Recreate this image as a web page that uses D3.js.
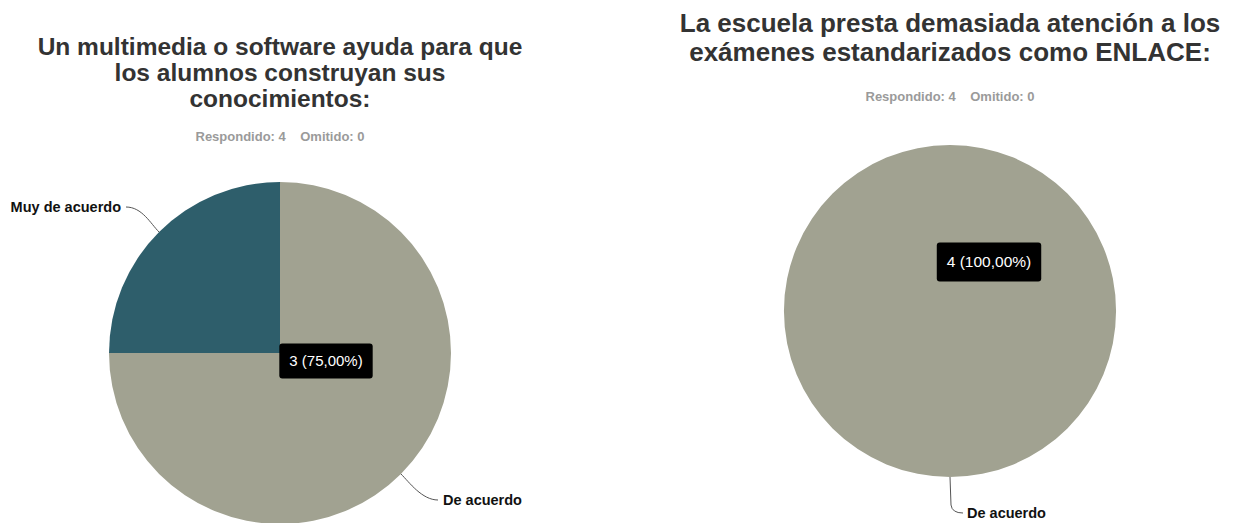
<!DOCTYPE html>
<html>
<head>
<meta charset="utf-8">
<script src="https://cdn.jsdelivr.net/npm/d3@7.9.0/dist/d3.min.js"></script>
<style>
  body { margin: 0; background: #fff; }
  svg { display: block; font-family: "Liberation Sans", Arial, sans-serif; }
</style>
</head>
<body>
<svg width="1236" height="523"></svg>
<script>
// Data
const leftTitle = ['Un multimedia o software ayuda para que', 'los alumnos construyan sus', 'conocimientos:'];
const leftCategories = ['De acuerdo', 'Muy de acuerdo'];
const leftValues = [3, 1];

const rightTitle = ['La escuela presta demasiada atención a los', 'exámenes estandarizados como ENLACE:'];
const rightCategories = ['De acuerdo'];
const rightValues = [4];

const answered = 4;
const skipped = 0;

const colors = { 'De acuerdo': '#a1a291', 'Muy de acuerdo': '#2e5e6b' };

const svg = d3.select('svg');

function drawPie(opts) {
  const g = svg.append('g');

  // title
  opts.title.forEach((line, i) => {
    g.append('text')
      .attr('x', opts.cx)
      .attr('y', opts.titleY + i * opts.titleLead)
      .attr('text-anchor', 'middle')
      .attr('font-size', opts.titleSize)
      .attr('font-weight', 'bold')
      .attr('fill', '#333')
      .text(line);
  });

  g.append('text')
    .attr('x', opts.cx)
    .attr('y', opts.subY)
    .attr('text-anchor', 'middle')
    .attr('font-size', 13)
    .attr('font-weight', 'bold')
    .attr('fill', '#9a9a9a')
    .attr('xml:space', 'preserve')
    .text(`Respondido: ${answered}    Omitido: ${skipped}`);

  const data = opts.categories.map((c, i) => ({ label: c, value: opts.values[i] }));
  const pie = d3.pie().sort(null).value(d => d.value);
  const arcs = pie(data);
  const arc = d3.arc().innerRadius(0).outerRadius(opts.r);

  const pg = g.append('g').attr('transform', `translate(${opts.cx},${opts.cy})`);
  pg.selectAll('path')
    .data(arcs)
    .join('path')
    .attr('d', arc)
    .attr('fill', d => colors[d.data.label])
    .attr('stroke', 'none');

  // leader lines + labels
  arcs.forEach(d => {
    const a = (d.startAngle + d.endAngle) / 2;
    const x0 = opts.cx + Math.sin(a) * opts.r;
    const y0 = opts.cy - Math.cos(a) * opts.r;
    const lab = opts.labels[d.data.label];
    const path = d3.path();
    path.moveTo(x0, y0);
    if (lab.vertical) {
      path.lineTo(x0 + 1, lab.y - 8);
      path.quadraticCurveTo(x0 + 2, lab.y, lab.x - 4, lab.y);
    } else {
      const side = lab.anchor === 'end' ? 1 : -1;
      const ex = lab.x + side * 5;
      path.bezierCurveTo(
        x0 + Math.sin(a) * 12, y0 - Math.cos(a) * 12,
        ex + side * 16, lab.y,
        ex, lab.y);
    }
    g.append('path')
      .attr('d', path.toString())
      .attr('fill', 'none')
      .attr('stroke', '#555')
      .attr('stroke-width', 1);
    g.append('text')
      .attr('x', lab.x)
      .attr('y', lab.y)
      .attr('dy', '0.35em')
      .attr('text-anchor', lab.anchor)
      .attr('font-size', 14.5)
      .attr('font-weight', 'bold')
      .attr('fill', '#111')
      .text(d.data.label);
  });

  // tooltip box for the biggest slice
  const total = d3.sum(opts.values);
  const big = data[0];
  const txt = `${big.value} (${(big.value / total * 100).toFixed(2).replace('.', ',')}%)`;
  const tg = g.append('g').attr('transform', `translate(${opts.tip[0]},${opts.tip[1]})`);
  const t = tg.append('text')
    .attr('text-anchor', 'middle')
    .attr('dy', '0.35em')
    .attr('font-size', opts.tipSize)
    .attr('fill', '#fff')
    .text(txt);
  const w = t.node().getComputedTextLength() + 20;
  tg.insert('rect', 'text')
    .attr('x', -w / 2)
    .attr('y', -opts.tipH / 2)
    .attr('width', w)
    .attr('height', opts.tipH)
    .attr('rx', 3)
    .attr('fill', '#000');
}

drawPie({
  title: leftTitle, categories: leftCategories, values: leftValues,
  cx: 280, cy: 353, r: 171,
  titleY: 55, titleLead: 26, titleSize: 24.5, subY: 141,
  labels: {
    'Muy de acuerdo': { x: 121, y: 207, anchor: 'end' },
    'De acuerdo': { x: 443, y: 500, anchor: 'start' }
  },
  tip: [326, 361], tipSize: 15, tipH: 35
});

drawPie({
  title: rightTitle, categories: rightCategories, values: rightValues,
  cx: 950, cy: 311, r: 166,
  titleY: 32, titleLead: 29, titleSize: 26, subY: 101,
  labels: {
    'De acuerdo': { x: 967, y: 513, anchor: 'start', vertical: true }
  },
  tip: [989, 262], tipSize: 15.5, tipH: 39
});
</script>
</body>
</html>
